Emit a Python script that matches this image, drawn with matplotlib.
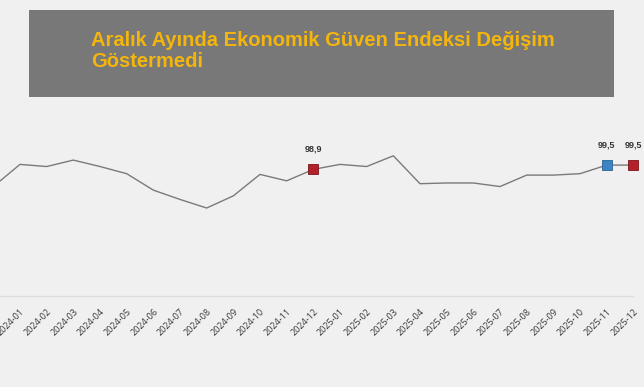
import matplotlib
matplotlib.use("Agg")
import matplotlib.pyplot as plt
from matplotlib.patches import Rectangle

months = ["2023-12",
          "2024-01", "2024-02", "2024-03", "2024-04", "2024-05", "2024-06",
          "2024-07", "2024-08", "2024-09", "2024-10", "2024-11", "2024-12",
          "2025-01", "2025-02", "2025-03", "2025-04", "2025-05", "2025-06",
          "2025-07", "2025-08", "2025-09", "2025-10", "2025-11", "2025-12"]

index = [96.5,
         99.6, 99.3, 100.2, 99.3, 98.3, 96.0,
         94.7, 93.5, 95.2, 98.2, 97.3, 98.9,
         99.6, 99.3, 100.8, 96.9, 97.0, 97.0,
         96.5, 98.1, 98.1, 98.3, 99.5, 99.5]

# highlighted points (with value labels)
marked = ["2023-12", "2024-12", "2025-11", "2025-12"]
marked_colors = ["#b3212b", "#b3212b", "#3c84c4", "#b3212b"]
marked_edges = ["#7c1219", "#7c1219", "#27618f", "#7c1219"]

title1 = "Aralık Ayında Ekonomik Güven Endeksi Değişim"
title2 = "Göstermedi"

bg = "#f0f0f0"
W, H = 644, 387

fig = plt.figure(figsize=(W / 100, H / 100), dpi=100, facecolor=bg)

# title box
fig.patches.append(Rectangle((29 / W, 1 - 97 / H), 585 / W, 87 / H,
                             transform=fig.transFigure, facecolor="#787878",
                             edgecolor="none", zorder=0))
tfont = ["Liberation Sans Narrow", "Liberation Sans", "DejaVu Sans"]
fig.text(91 / W, 1 - 46 / H, title1, color="#f4b50c", fontsize=14.5,
         fontweight="bold", family=tfont, va="baseline", ha="left")
fig.text(91 / W, 1 - 67 / H, title2, color="#f4b50c", fontsize=14.5,
         fontweight="bold", family=tfont, va="baseline", ha="left")

ax = fig.add_axes([0, 1 - 296 / H, 1, 196 / H])
ax.set_facecolor("none")

x = list(range(len(months)))
ax.plot(x, index, color="#7a7a7a", lw=1.0, zorder=2)

for m, c, ec in zip(marked, marked_colors, marked_edges):
    i = months.index(m)
    ax.plot(i, index[i], marker="s", ms=7.5, mfc=c, mec=ec, mew=0.6,
            ls="none", zorder=3)
    ax.annotate(("%.1f" % index[i]).replace(".", ","), (i, index[i]),
                xytext=(0, 14.5), textcoords="offset points",
                ha="center", va="center", fontsize=6.5, fontweight="bold",
                color="#333333", family="Liberation Sans")

ax.set_xticks(x)
ax.set_xticklabels(months, rotation=45, ha="right", rotation_mode="anchor",
                   fontsize=6.5, color="#383838", family="Open Sans")
ax.tick_params(axis="x", length=0, pad=8)
ax.set_yticks([])

# limits after the ticks, set_xticks would widen them again
ax.set_xlim(0.25, 24.4)
ax.set_ylim(81.2, 108.6)

for s in ["top", "left", "right"]:
    ax.spines[s].set_visible(False)
ax.spines["bottom"].set_color("#dcdcdc")
ax.spines["bottom"].set_linewidth(1)
ax.spines["bottom"].set_bounds(0.25, 24)

fig.savefig("out.png", dpi=100, facecolor=bg)
